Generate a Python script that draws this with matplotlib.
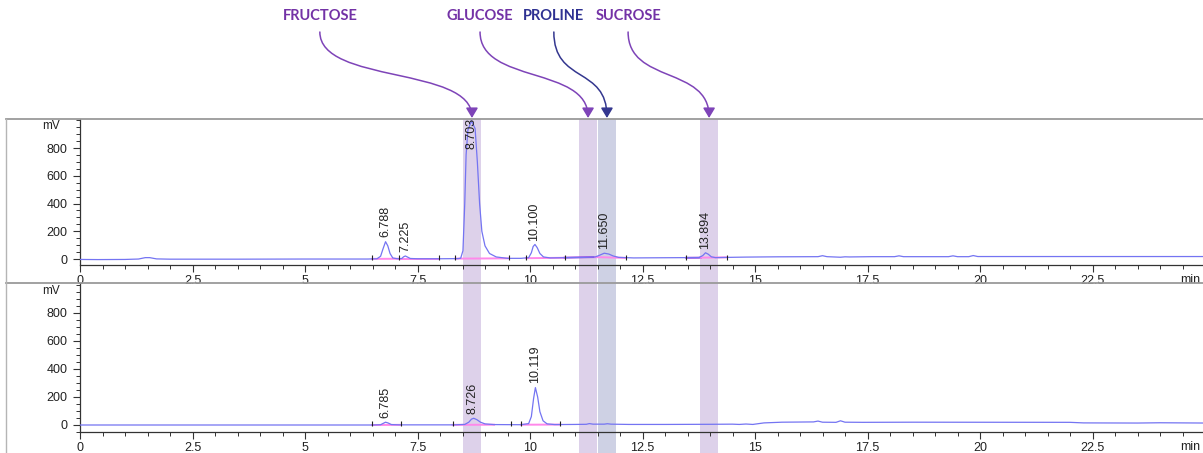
import numpy as np
import matplotlib
matplotlib.use("Agg")
import matplotlib.pyplot as plt
from matplotlib.path import Path
from matplotlib.patches import FancyArrowPatch, Rectangle
from matplotlib.lines import Line2D
from matplotlib.ticker import MultipleLocator
from matplotlib.transforms import blended_transform_factory

# ---- data ----
top_t = [0, 0.4, 1.0, 1.3, 1.45, 1.55, 1.7, 2.0, 3.5, 5.0, 6.4, 6.6, 6.68, 6.73, 6.79, 6.84,
         6.89, 6.95, 7.05, 7.15, 7.19, 7.23, 7.28, 7.34, 7.5, 8.0, 8.4, 8.46, 8.51, 8.55, 8.58,
         8.62, 8.70, 8.78, 8.83, 8.88, 8.93, 9.0, 9.1, 9.25, 9.5, 9.8, 9.97, 10.03, 10.07, 10.11,
         10.16, 10.22, 10.3, 10.45, 10.8, 11.2, 11.45, 11.55, 11.65, 11.75, 11.85, 11.97, 12.3,
         12.8, 13.4, 13.75, 13.84, 13.90, 13.96, 14.03, 14.12, 14.4, 14.8, 15.5, 16.4, 16.5,
         16.6, 16.9, 17.0, 17.1, 17.6, 18.1, 18.2, 18.3, 19.3, 19.4, 19.5, 19.75, 19.85, 19.95,
         21.0, 23.0, 25.0]
top_mv = [-3, -4, -3, 0, 10, 10, 1, -1, -1, 0, 0, 2, 20, 70, 125, 95,
          40, 8, 2, 4, 16, 22, 14, 4, 2, 2, 3, 6, 60, 400, 750,
          930, 995, 940, 700, 400, 200, 95, 40, 15, 5, 5, 10, 45, 90, 105,
          82, 40, 15, 8, 10, 12, 15, 28, 42, 36, 22, 12, 8,
          9, 10, 10, 25, 45, 35, 16, 10, 12, 14, 16, 17, 24,
          17, 13, 16, 15, 17, 17, 23, 17, 17, 23, 17, 17, 25, 18,
          18, 18, 18]

bot_t = [0, 3, 6.5, 6.68, 6.74, 6.79, 6.85, 6.92, 7.1, 8.3, 8.55, 8.64, 8.70, 8.75, 8.82,
         8.9, 9.0, 9.2, 9.8, 9.97, 10.03, 10.08, 10.12, 10.17, 10.22, 10.29, 10.38, 10.55,
         11.0, 11.25, 11.32, 11.4, 11.65, 11.72, 11.8, 12.2, 13.0, 14.0, 14.5, 14.65, 14.8,
         14.95, 15.2, 15.6, 16.3, 16.4, 16.5, 16.8, 16.9, 17.0, 17.4, 18.5, 22.0, 22.3, 23.5,
         24.0, 25.0]
bot_mv = [0, 0, 0, 2, 12, 20, 14, 3, 1, 1, 4, 20, 42, 48, 38,
          20, 8, 3, 2, 10, 60, 190, 267, 200, 95, 30, 8, 3,
          4, 5, 10, 6, 6, 9, 6, 4, 4, 5, 6, 4, 7,
          4, 15, 20, 22, 28, 20, 19, 30, 20, 19, 20, 19, 15, 14,
          16, 14]

top_peaks = [6.788, 7.225, 8.703, 10.100, 11.650, 13.894]
bot_peaks = [6.785, 8.726, 10.119]

# integration marks and baselines
top_marks = [6.49, 7.09, 7.98, 8.34, 9.53, 9.91, 10.77, 12.13, 13.47, 14.38]
bot_marks = [6.49, 7.13, 8.28, 9.57, 9.80, 10.67]
top_base = [(6.49, 7.09, 1, 2, "p"), (7.09, 7.98, 2, 2, "p"), (8.34, 9.53, 3, 5, "p"),
            (9.91, 10.77, 6, 9, "p"), (10.77, 11.45, 10, 14, "d"), (11.45, 12.13, 14, 8, "p"),
            (13.47, 13.80, 9, 10, "d"), (13.80, 14.38, 10, 12, "p")]
bot_base = [(6.49, 7.13, 0, 1, "p"), (8.28, 9.20, 1, 2, "p"), (9.80, 10.67, 2, 3, "p")]

# highlighted compounds
names = ["FRUCTOSE", "GLUCOSE", "PROLINE", "SUCROSE"]
label_x = [5.33, 8.89, 10.53, 12.18]
band_lo = [8.51, 11.09, 11.51, 13.78]
band_hi = [8.91, 11.49, 11.91, 14.18]
band_col = ["#ddd1ea", "#ddd1ea", "#ced1e4", "#ddd1ea"]
text_col = ["#7332a6", "#7332a6", "#2e3192", "#7332a6"]
arrow_col = ["#7e44b8", "#7e44b8", "#34378f", "#7e44b8"]

W, H = 1203, 453
LINE = "#7474f2"
PINK = {"p": "#ff88ea", "d": "#a23cdc"}
tick_font = dict(family=["Liberation Sans", "DejaVu Sans"], size=9)

fig = plt.figure(figsize=(W / 100, H / 100), dpi=100)


def fy(px):
    return 1 - px / H


ax1 = fig.add_axes([80 / W, fy(265), 1 - 80 / W, fy(119) - fy(265)])
ax2 = fig.add_axes([80 / W, fy(432), 1 - 80 / W, fy(283) - fy(432)])


def panel(ax, t, mv, peaks, marks, base, ylim):
    ax.set_facecolor("none")
    ax.plot(t, mv, color=LINE, lw=0.9, zorder=3)
    for x0, x1, y0, y1, c in base:
        ax.plot([x0, x1], [y0, y1], color=PINK[c], lw=1.4, zorder=2)
    ax.vlines(marks, -10, 28, color="#222222", lw=0.8, zorder=4)
    for rt in peaks:
        h = np.interp(rt, t, mv)
        if h + 260 > ylim[1]:
            ax.text(rt, ylim[1] + 5, f"{rt:.3f}", rotation=90, ha="center", va="top",
                    fontdict=tick_font, color="#222222", zorder=5)
        else:
            ax.text(rt, h + 32, f"{rt:.3f}", rotation=90, ha="center", va="bottom",
                    fontdict=tick_font, color="#222222", zorder=5)
    ax.set_xlim(0, (W - 80) / 45)
    ax.set_ylim(*ylim)
    for s in ["top", "right"]:
        ax.spines[s].set_visible(False)
    for s in ["left", "bottom"]:
        ax.spines[s].set_color("#333333")
        ax.spines[s].set_linewidth(0.9)
    ax.set_yticks([0, 200, 400, 600, 800])
    ax.yaxis.set_minor_locator(MultipleLocator(50))
    ax.set_xticks(np.arange(0, 23, 2.5))
    ax.set_xticklabels(["0", "2.5", "5", "7.5", "10", "12.5", "15", "17.5", "20", "22.5"])
    ax.xaxis.set_minor_locator(MultipleLocator(0.5))
    ax.tick_params(which="major", length=5, width=0.8, color="#333333", pad=4,
                   labelsize=9, labelcolor="#222222")
    ax.tick_params(axis="x", which="major", pad=2.5)
    ax.tick_params(which="minor", length=3, width=0.7, color="#333333")
    for lab in ax.get_xticklabels() + ax.get_yticklabels():
        lab.set_family(["Liberation Sans", "DejaVu Sans"])
    ax.text(-0.45, 960, "mV", ha="right", va="center", fontdict=dict(tick_font, size=8.5),
            color="#222222")
    ax.text(0.998, -0.1, "min", transform=ax.transAxes,
            ha="right", va="center", fontdict=tick_font, color="#222222")


panel(ax1, top_t, top_mv, top_peaks, top_marks, top_base, (-43, 1009))
panel(ax2, bot_t, bot_mv, bot_peaks, bot_marks, bot_base, (-50, 1014))

# bands behind both panels
bt = blended_transform_factory(ax1.transData, fig.transFigure)
for lo, hi, c in zip(band_lo, band_hi, band_col):
    fig.add_artist(Rectangle((lo, 0), hi - lo, fy(119), transform=bt, facecolor=c,
                             edgecolor="none", zorder=-1))

# panel frames
for y in (119, 283):
    fig.add_artist(Line2D([6 / W, 1], [fy(y), fy(y)], color="#9a9a9a", lw=1.3, zorder=1))
fig.add_artist(Line2D([6 / W, 6 / W], [0, fy(119)], color="#b5b5b5", lw=1.0, zorder=1))

# compound labels and curved arrows
k = 52 / H
y0, y1 = fy(32), fy(118)
for name, lx, lo, hi, tc, ac in zip(names, label_x, band_lo, band_hi, text_col, arrow_col):
    fig.text(lx, fy(16), name, transform=bt, ha="center", va="center", color=tc,
             fontsize=10.5, fontweight="bold", family=["Lato", "DejaVu Sans"])
    xe = (lo + hi) / 2
    path = Path([(lx, y0), (lx, y0 - k), (xe, y1 + k), (xe, y1)],
                [Path.MOVETO, Path.CURVE4, Path.CURVE4, Path.CURVE4])
    fig.add_artist(FancyArrowPatch(path=path, transform=bt, color=ac, lw=1.1,
                                   arrowstyle="-|>,head_length=0.5,head_width=0.3",
                                   mutation_scale=12, zorder=6))

fig.savefig("out.png", dpi=100)
